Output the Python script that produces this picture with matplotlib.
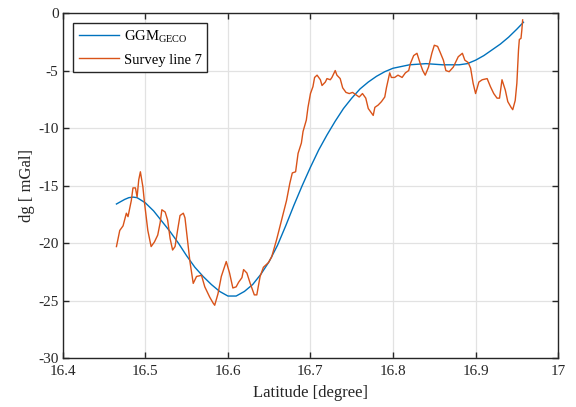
import matplotlib
matplotlib.use("Agg")
import matplotlib.pyplot as plt

plt.rcParams["font.family"] = ["Liberation Serif", "DejaVu Serif"]
plt.rcParams["mathtext.fontset"] = "custom"
plt.rcParams["mathtext.rm"] = "Liberation Serif"
plt.rcParams["mathtext.it"] = "Liberation Serif:italic"
plt.rcParams["axes.unicode_minus"] = False

# GGM model curve
ggmLat = [16.465, 16.470, 16.475, 16.480, 16.485, 16.490, 16.50, 16.51, 16.52,
          16.53, 16.54, 16.55, 16.56, 16.57, 16.58, 16.59, 16.60, 16.61,
          16.62, 16.63, 16.64, 16.65, 16.66, 16.67, 16.68, 16.69, 16.70,
          16.71, 16.72, 16.73, 16.74, 16.75, 16.76, 16.77, 16.78, 16.79,
          16.80, 16.82, 16.84, 16.86, 16.88, 16.89, 16.90, 16.91, 16.92,
          16.93, 16.94, 16.95, 16.958]
ggmDg = [-16.6, -16.4, -16.2, -16.05, -16.0, -16.05, -16.5, -17.2, -18.1,
         -19.0, -20.0, -21.1, -22.1, -22.9, -23.6, -24.2, -24.6, -24.6,
         -24.2, -23.6, -22.7, -21.6, -20.2, -18.5, -16.7, -15.0, -13.4,
         -11.9, -10.6, -9.4, -8.3, -7.4, -6.6, -6.0, -5.5, -5.1,
         -4.8, -4.5, -4.4, -4.5, -4.5, -4.4, -4.1, -3.7, -3.2,
         -2.7, -2.1, -1.4, -0.8]

# survey line 7
surveyLat = [16.465, 16.469, 16.473, 16.477, 16.479, 16.483, 16.485, 16.488, 16.490,
             16.492, 16.494, 16.497, 16.499, 16.503, 16.507, 16.511, 16.515, 16.518,
             16.520, 16.524, 16.527, 16.530, 16.533, 16.536, 16.539, 16.542, 16.546,
             16.548, 16.551, 16.554, 16.558, 16.562, 16.568, 16.572, 16.578, 16.582,
             16.584, 16.588, 16.592, 16.598, 16.602, 16.606, 16.610, 16.613, 16.617,
             16.619, 16.623, 16.627, 16.632, 16.635, 16.639, 16.643, 16.649, 16.653,
             16.659, 16.665, 16.671, 16.675, 16.678, 16.682, 16.685, 16.689, 16.691,
             16.695, 16.697, 16.700, 16.703, 16.705, 16.708, 16.712, 16.714, 16.718,
             16.720, 16.724, 16.726, 16.730, 16.732, 16.736, 16.739, 16.743, 16.747,
             16.751, 16.755, 16.759, 16.763, 16.767, 16.770, 16.773, 16.776, 16.778,
             16.782, 16.786, 16.790, 16.792, 16.796, 16.798, 16.802, 16.806, 16.811,
             16.815, 16.819, 16.821, 16.825, 16.829, 16.833, 16.836, 16.839, 16.843,
             16.847, 16.850, 16.854, 16.857, 16.861, 16.864, 16.868, 16.873, 16.879,
             16.884, 16.887, 16.891, 16.894, 16.897, 16.900, 16.904, 16.908, 16.914,
             16.918, 16.922, 16.926, 16.929, 16.932, 16.936, 16.939, 16.943, 16.945,
             16.948, 16.950, 16.952, 16.953, 16.955, 16.956, 16.957]
surveyDg = [-20.3, -18.9, -18.5, -17.4, -17.7, -16.3, -15.2, -15.2, -16.0,
            -14.5, -13.8, -15.1, -16.5, -18.9, -20.3, -19.9, -19.3, -18.2,
            -17.1, -17.3, -18.0, -19.6, -20.6, -20.3, -18.9, -17.6, -17.4,
            -17.8, -19.7, -21.6, -23.5, -22.9, -22.8, -23.8, -24.7, -25.2,
            -25.4, -24.4, -22.9, -21.6, -22.6, -23.9, -23.8, -23.4, -23.0,
            -22.3, -22.6, -23.5, -24.5, -24.5, -22.9, -22.1, -21.7, -21.2,
            -19.7, -18.0, -16.3, -14.8, -13.9, -13.8, -12.2, -11.3, -10.3,
            -9.3, -8.2, -7.0, -6.4, -5.6, -5.4, -5.8, -6.3, -6.0,
            -5.7, -5.8, -5.6, -5.0, -5.4, -5.7, -6.5, -6.9, -7.0,
            -6.9, -7.1, -7.3, -7.0, -7.4, -8.3, -8.6, -8.9, -8.2,
            -8.0, -7.7, -7.3, -6.5, -5.2, -5.6, -5.6, -5.4, -5.6,
            -5.2, -5.0, -4.4, -3.7, -3.5, -4.4, -5.0, -5.4, -4.7,
            -3.5, -2.8, -2.9, -3.4, -4.1, -5.0, -5.1, -4.7, -3.8,
            -3.5, -4.1, -4.3, -4.8, -6.1, -7.0, -6.0, -5.8, -5.7,
            -6.4, -7.0, -7.4, -7.4, -5.8, -6.7, -7.7, -8.2, -8.4,
            -7.6, -6.1, -3.2, -2.3, -2.2, -1.5, -0.6]

xTicks = [16.4, 16.5, 16.6, 16.7, 16.8, 16.9, 17]
xTickLabels = ["16.4", "16.5", "16.6", "16.7", "16.8", "16.9", "17"]
yTicks = [-30, -25, -20, -15, -10, -5, 0]

fig = plt.figure(figsize=(5.76, 4.07), dpi=100)
ax = fig.add_axes([0.109, 0.120, 0.860, 0.848])

ax.plot(ggmLat, ggmDg, color="#0072BD", linewidth=1.0, label=r"GGM$_{\mathrm{GECO}}$")
ax.plot(surveyLat, surveyDg, color="#D95319", linewidth=1.0, label="Survey line 7")

ax.set_xlim(16.4, 17)
ax.set_ylim(-30, 0)
ax.set_xticks(xTicks)
ax.set_xticklabels(xTickLabels)
ax.set_yticks(yTicks)
ax.grid(True, color="#e2e2e2", linewidth=0.9)
ax.set_axisbelow(True)

ax.tick_params(direction="in", top=True, right=True, length=4, width=1,
               labelsize=11, colors="#262626")
ax.tick_params(axis="x", pad=5)
ax.tick_params(axis="y", pad=3)
for s in ax.spines.values():
    s.set_color("#262626")
    s.set_linewidth(1.0)

ax.set_xlabel("Latitude [degree]", fontsize=12, color="#262626", labelpad=5)
ax.set_ylabel("dg [ mGal]", fontsize=12, color="#262626", labelpad=2)

leg = ax.legend(loc="upper left", bbox_to_anchor=(0.02, 0.972), borderaxespad=0,
                fancybox=False, edgecolor="#262626", framealpha=1, fontsize=10.5,
                handlelength=2.8, borderpad=0.4, labelspacing=0.6, handletextpad=0.3)
leg.get_frame().set_linewidth(1.0)

fig.savefig("out.png", dpi=100)
